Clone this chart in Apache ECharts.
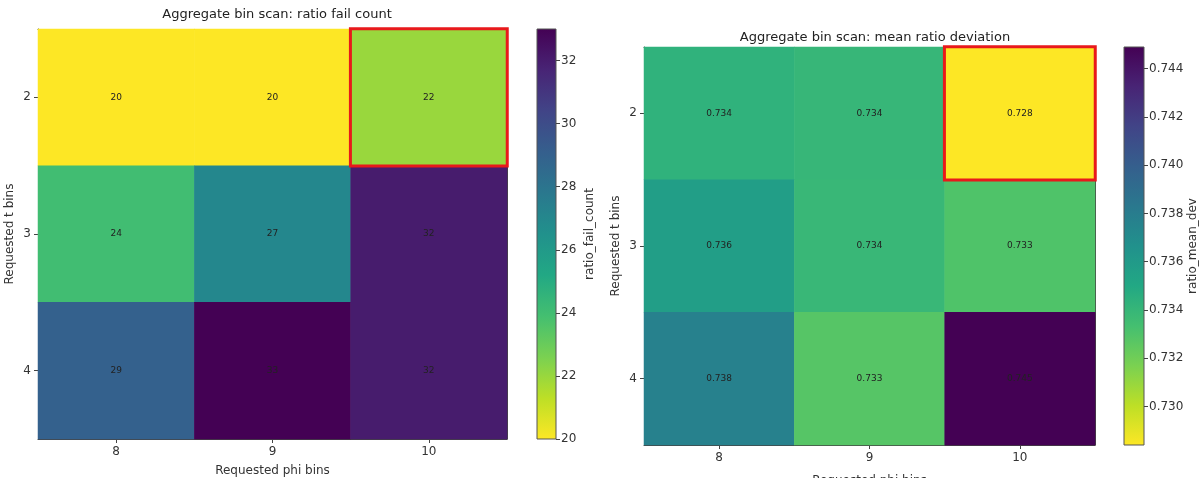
<!DOCTYPE html>
<html><head><meta charset="utf-8">
<script src="https://cdn.jsdelivr.net/npm/echarts@6/dist/echarts.min.js"></script>
<style>html,body{margin:0;padding:0;background:#fff}#c{width:1200px;height:478px}</style>
</head><body><div id="c"></div>
<script>
const phiBins = ['8', '9', '10'];
const tBins = ['2', '3', '4'];
const failCount = [[20, 20, 22], [24, 27, 32], [29, 33, 32]];
const meanDev = [[0.7343, 0.7340, 0.7284], [0.7357, 0.7339, 0.7330], [0.7377, 0.7328, 0.7449]];
const failTicks = [20, 22, 24, 26, 28, 30, 32];
const devTicks = [0.730, 0.732, 0.734, 0.736, 0.738, 0.740, 0.742, 0.744];
const failRange = [20, 33];
const devRange = [0.7284, 0.7449];

const viridis = ['#440154','#482475','#414487','#355f8d','#2a788e','#21918c','#22a884','#44bf70','#7ad151','#bddf26','#fde725'];
const viridisR = viridis.slice().reverse();
const FONT = 'DejaVu Sans';

// selected configuration: the cell with the lowest mean ratio deviation
let sel = [0, 0], selV = Infinity;
meanDev.forEach((row, i) => row.forEach((v, j) => { if (v < selV) { selV = v; sel = [j, i]; } }));

function cells(m) {
  const out = []; let last = null;
  m.forEach((row, i) => row.forEach((v, j) => {
    if (j === sel[0] && i === sel[1]) {
      last = { value: [j, i, v], itemStyle: { borderColor: '#e8191b', borderWidth: 3 } };
    } else out.push({ value: [j, i, v] });
  }));
  out.push(last);
  return out;
}
function gradient() {
  return { type: 'linear', x: 0, y: 0, x2: 0, y2: 1,
    colorStops: viridis.map((c, k) => ({ offset: k / (viridis.length - 1), color: c })) };
}
const axisTxt = { fontFamily: FONT, fontSize: 12, color: '#333' };
const lineStyle = { color: '#444', width: 1 };

function heatAxes(g, yName, xGap) {
  return {
    x: [
      { type: 'category', gridIndex: g, data: phiBins, position: 'bottom', name: 'Requested phi bins', nameLocation: 'middle', nameGap: xGap,
        nameTextStyle: axisTxt, axisLabel: Object.assign({ margin: 7 }, axisTxt),
        axisLine: { show: true, lineStyle }, axisTick: { show: true, alignWithLabel: true, length: 4, lineStyle }, splitLine: { show: false } },
      { type: 'category', gridIndex: g, data: phiBins, position: 'top', axisLabel: { show: false }, axisTick: { show: false },
        axisLine: { show: true, lineStyle } }
    ],
    y: [
      { type: 'category', gridIndex: g, data: tBins, inverse: true, position: 'left', name: yName, nameLocation: 'middle', nameGap: 22, nameRotate: 90,
        nameTextStyle: axisTxt, axisLabel: Object.assign({ margin: 7 }, axisTxt),
        axisLine: { show: true, lineStyle }, axisTick: { show: true, alignWithLabel: true, length: 4, lineStyle }, splitLine: { show: false } },
      { type: 'category', gridIndex: g, data: tBins, inverse: true, position: 'right', axisLabel: { show: false }, axisTick: { show: false },
        axisLine: { show: true, lineStyle } }
    ]
  };
}
function cbarAxes(g, range, ticks, name, fmt, gap) {
  return {
    x: { type: 'category', gridIndex: g, data: [''], show: false },
    y: { type: 'value', gridIndex: g, min: range[0], max: range[1], position: 'right', name: name, nameLocation: 'middle', nameRotate: 90, nameGap: gap,
      nameTextStyle: axisTxt,
      axisLine: { show: false }, splitLine: { show: false },
      axisTick: { show: true, length: 4, lineStyle, customValues: ticks },
      axisLabel: Object.assign({ margin: 5, formatter: fmt, customValues: ticks }, axisTxt) }
  };
}

const h0 = heatAxes(0, 'Requested t bins', 26);
const h1 = heatAxes(2, 'Requested t bins', 30);
const c0 = cbarAxes(1, failRange, failTicks, 'ratio_fail_count', v => String(Math.round(v)), 28);
const c1 = cbarAxes(3, devRange, devTicks, 'ratio_mean_dev', v => v.toFixed(3), 43);

const gridBase = { outerBoundsMode: 'none', containLabel: false };
const option = {
  animation: false,
  backgroundColor: '#ffffff',
  title: [
    { text: 'Aggregate bin scan: ratio fail count', left: 272, top: 3, textAlign: 'center',
      textStyle: { fontFamily: FONT, fontSize: 13, fontWeight: 'normal', color: '#222' } },
    { text: 'Aggregate bin scan: mean ratio deviation', left: 870, top: 26, textAlign: 'center',
      textStyle: { fontFamily: FONT, fontSize: 13, fontWeight: 'normal', color: '#222' } }
  ],
  grid: [
    Object.assign({ left: 38, top: 29, width: 469, height: 410, show: false }, gridBase),
    Object.assign({ left: 537, top: 29, width: 19, height: 410, show: true, backgroundColor: gradient(), borderColor: '#555', borderWidth: 1 }, gridBase),
    Object.assign({ left: 644, top: 47, width: 451, height: 398, show: false }, gridBase),
    Object.assign({ left: 1124, top: 47, width: 20, height: 398, show: true, backgroundColor: gradient(), borderColor: '#555', borderWidth: 1 }, gridBase)
  ],
  xAxis: [h0.x[0], h0.x[1], c0.x, h1.x[0], h1.x[1], c1.x],
  yAxis: [h0.y[0], h0.y[1], c0.y, h1.y[0], h1.y[1], c1.y],
  visualMap: [
    { show: false, type: 'continuous', seriesIndex: 0, dimension: 2, min: failRange[0], max: failRange[1], inRange: { color: viridisR } },
    { show: false, type: 'continuous', seriesIndex: 1, dimension: 2, min: devRange[0], max: devRange[1], inRange: { color: viridisR } }
  ],
  series: [
    { type: 'heatmap', xAxisIndex: 0, yAxisIndex: 0, data: cells(failCount),
      label: { show: true, fontFamily: FONT, fontSize: 9, color: '#222', formatter: p => String(p.value[2]) },
      itemStyle: { borderWidth: 0 }, emphasis: { disabled: true } },
    { type: 'heatmap', xAxisIndex: 3, yAxisIndex: 3, data: cells(meanDev),
      label: { show: true, fontFamily: FONT, fontSize: 9, color: '#222', formatter: p => p.value[2].toFixed(3) },
      itemStyle: { borderWidth: 0 }, emphasis: { disabled: true } }
  ]
};
echarts.init(document.getElementById('c'), null, { renderer: 'canvas' }).setOption(option);
</script></body></html>
